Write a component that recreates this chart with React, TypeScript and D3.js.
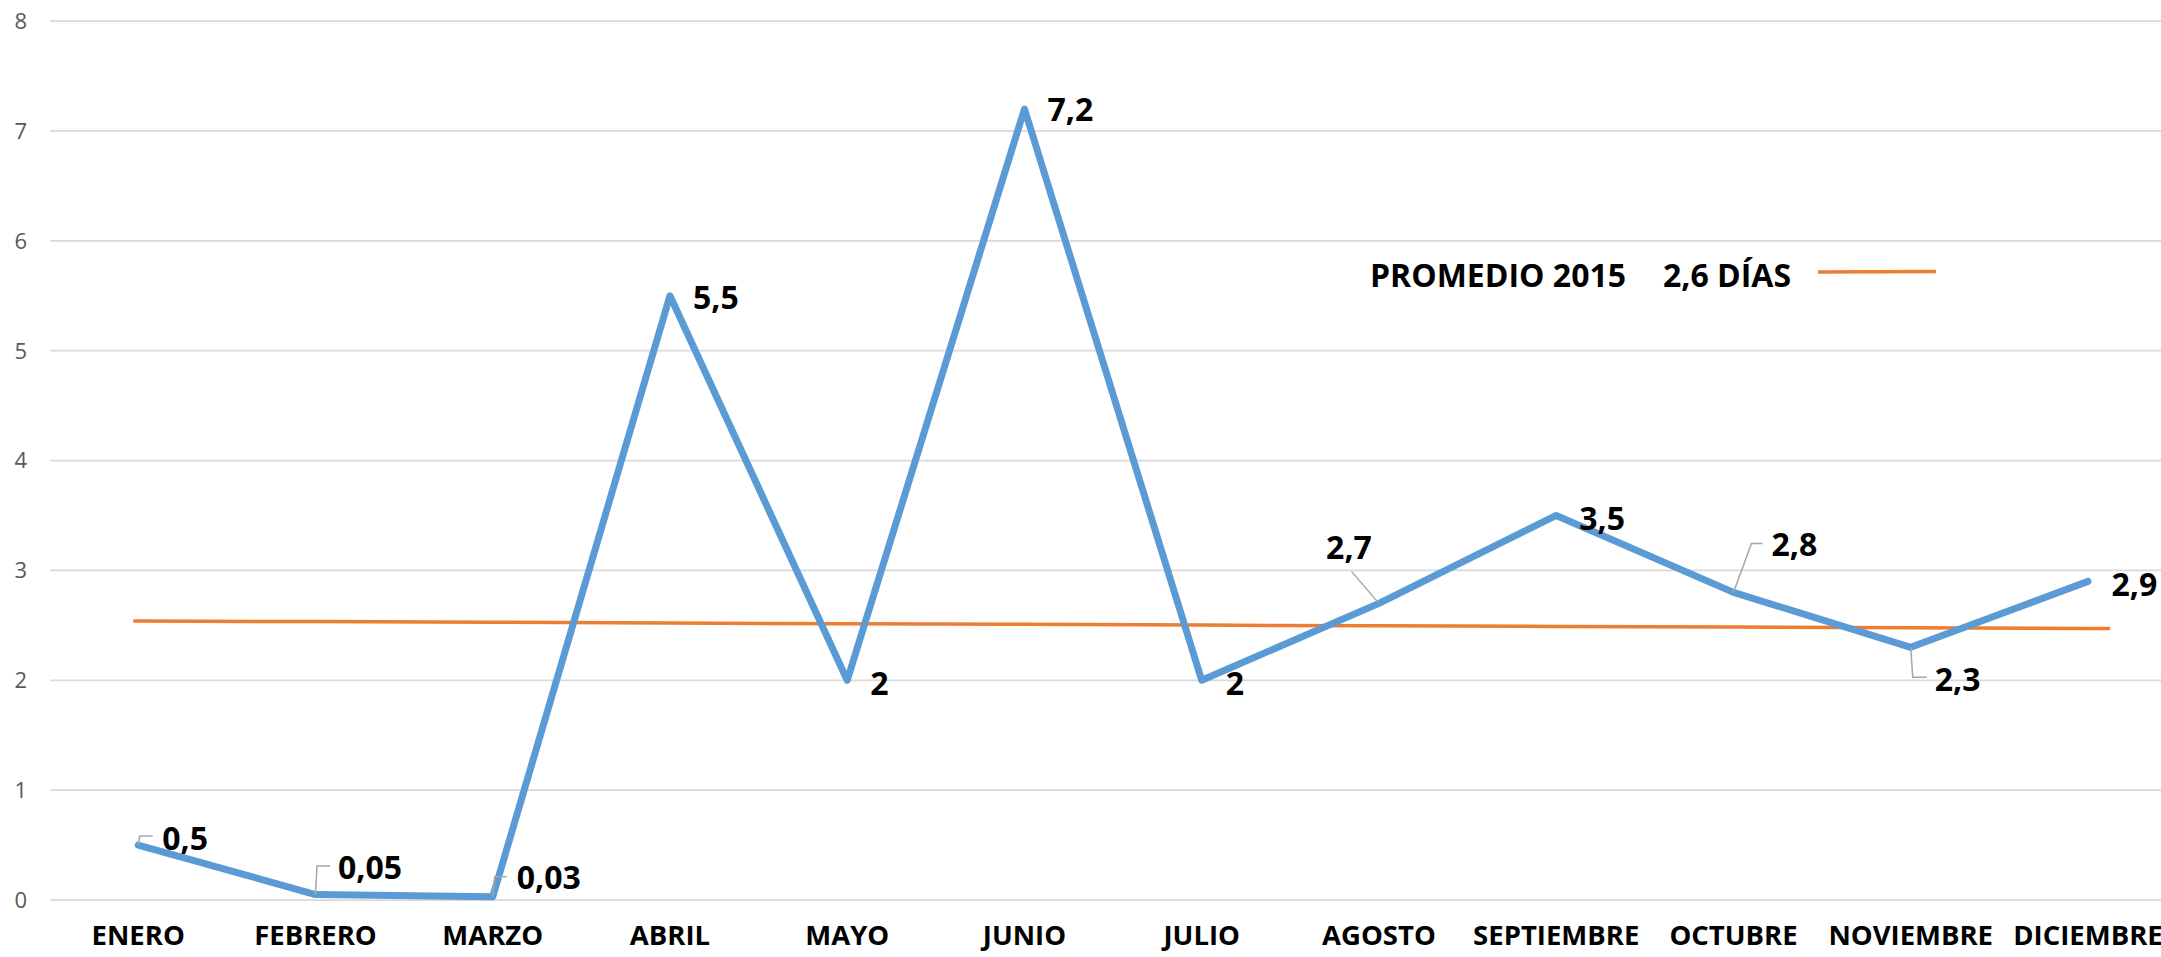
import React from "react";
import * as d3 from "d3";

const months = ["ENERO", "FEBRERO", "MARZO", "ABRIL", "MAYO", "JUNIO", "JULIO", "AGOSTO", "SEPTIEMBRE", "OCTUBRE", "NOVIEMBRE", "DICIEMBRE"];
const dias = [0.5, 0.05, 0.03, 5.5, 2, 7.2, 2, 2.7, 3.5, 2.8, 2.3, 2.9];
const diasLabels = ["0,5", "0,05", "0,03", "5,5", "2", "7,2", "2", "2,7", "3,5", "2,8", "2,3", "2,9"];
const promedio = [2.54, 2.534, 2.528, 2.521, 2.515, 2.509, 2.502, 2.496, 2.49, 2.484, 2.477, 2.471];
const yTicks = [0, 1, 2, 3, 4, 5, 6, 7, 8];
const legendTitle = "PROMEDIO 2015";
const legendValue = "2,6 DÍAS";

// label placement relative to the point (layout only)
const labelLayout: { dx: number; dy: number; anchor?: string; leader?: number[][] }[] = [
  { dx: 24, dy: -7, leader: [[0, 0], [1.5, -9], [14.5, -9]] },
  { dx: 22.5, dy: -27.5, leader: [[0, 0], [1.5, -28.5], [14.5, -28.5]] },
  { dx: 24, dy: -19, leader: [[0, 0], [2, -20], [14, -20]] },
  { dx: 23, dy: 2 },
  { dx: 23, dy: 3 },
  { dx: 23, dy: 1 },
  { dx: 24, dy: 3 },
  { dx: -30, dy: -56, anchor: "middle", leader: [[0, 0], [-27.5, -32]] },
  { dx: 23, dy: 3 },
  { dx: 38, dy: -48, leader: [[0, 0], [18, -49], [29, -49]] },
  { dx: 24, dy: 32, leader: [[0, 0], [2, 30], [16, 30]] },
  { dx: 23.5, dy: 3 },
];

const W = 2161;
const H = 957;
const FONT = "'Open Sans', 'DejaVu Sans', sans-serif";

export default function App() {
  const x = d3.scaleBand<string>().domain(months).range([49.6, 2176.6]).padding(0);
  const bw = x.bandwidth();
  const cx = (m: string) => (x(m) as number) + bw / 2;
  const y = d3.scaleLinear().domain([0, 8]).range([900, 21.1]);

  const blueLine = d3
    .line<number>()
    .x((_, i) => cx(months[i]))
    .y((d) => y(d));

  const avgPts: [number, number][] = promedio.map((v, i) => [cx(months[i]), y(v)]);
  const last = promedio[promedio.length - 1];
  avgPts.unshift([cx(months[0]) - 5, y(promedio[0])]);
  avgPts.push([cx(months[months.length - 1]) + bw * 0.125, y(last)]);
  const avgLine = d3.line()(avgPts) as string;

  return (
    <svg
      width={W}
      height={H}
      style={{ position: "absolute", left: 0, top: 0, background: "#fff" }}
      fontFamily={FONT}
    >
      <rect x={0} y={0} width={W} height={H} fill="#fff" />
      {yTicks.map((t) => (
        <g key={t}>
          <line x1={50} x2={2176} y1={y(t)} y2={y(t)} stroke="#D9D9D9" strokeWidth={1.75} />
          <text x={27} y={y(t)} dy="0.36em" textAnchor="end" fontSize={22} fill="#595959">
            {t}
          </text>
        </g>
      ))}
      {months.map((m) => (
        <text key={m} x={cx(m)} y={945} textAnchor="middle" fontSize={27.5} fontWeight={700} fill="#000">
          {m}
        </text>
      ))}
      <path d={avgLine} fill="none" stroke="#ED7D31" strokeWidth={3.5} />
      <path
        d={blueLine(dias) as string}
        fill="none"
        stroke="#5B9BD5"
        strokeWidth={7}
        strokeLinejoin="round"
        strokeLinecap="round"
      />
      {dias.map((v, i) => {
        const px = cx(months[i]);
        const py = y(v);
        const L = labelLayout[i];
        return (
          <g key={i}>
            {L.leader && (
              <polyline
                points={L.leader.map((p) => `${px + p[0]},${py + p[1]}`).join(" ")}
                fill="none"
                stroke="#A6A6A6"
                strokeWidth={1.5}
              />
            )}
            <text
              x={px + L.dx}
              y={py + L.dy + 11.5}
              textAnchor={L.anchor || "start"}
              fontSize={32}
              fontWeight={700}
              fill="#000"
            >
              {diasLabels[i]}
            </text>
          </g>
        );
      })}
      <text x={1370} y={287} fontSize={32} fontWeight={700} fill="#000">
        {legendTitle}
      </text>
      <text x={1791} y={287} textAnchor="end" fontSize={32} fontWeight={700} fill="#000">
        {legendValue}
      </text>
      <line x1={1818} x2={1936} y1={272} y2={271.5} stroke="#ED7D31" strokeWidth={3.5} />
    </svg>
  );
}
